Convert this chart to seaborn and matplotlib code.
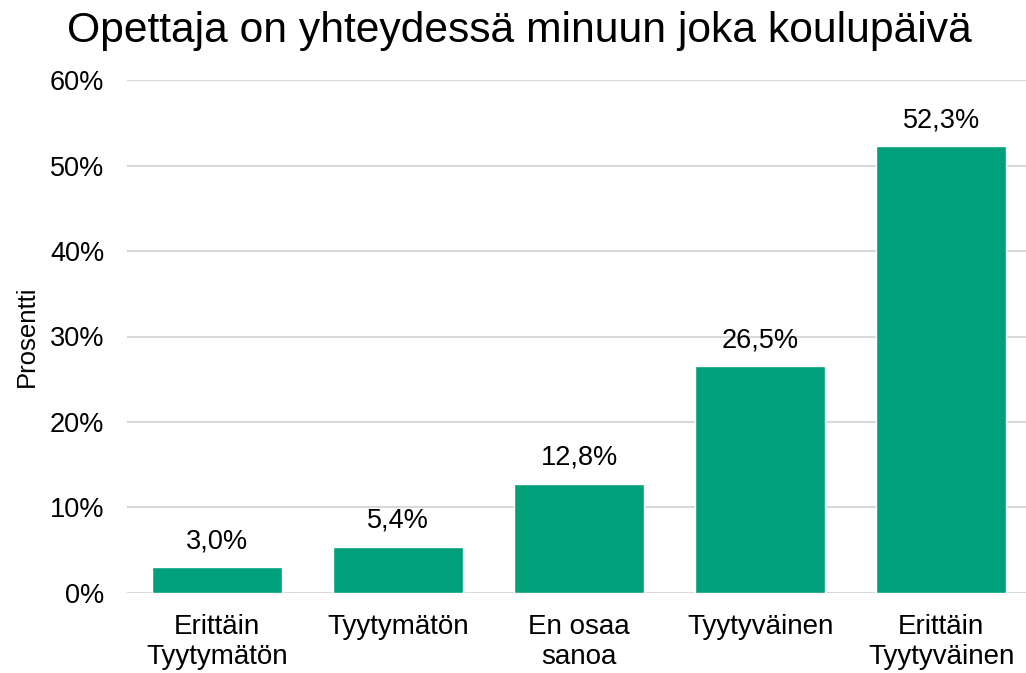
import matplotlib
matplotlib.use("Agg")
import matplotlib.pyplot as plt
import seaborn as sns
import pandas as pd
from matplotlib.ticker import PercentFormatter

categories = ["Erittäin\nTyytymätön", "Tyytymätön", "En osaa\nsanoa", "Tyytyväinen", "Erittäin\nTyytyväinen"]
values = [3.0, 5.4, 12.8, 26.5, 52.3]
title = "Opettaja on yhteydessä minuun joka koulupäivä"
ylabel = "Prosentti"

sns.set_theme(style="white")
plt.rcParams['font.family'] = ['Liberation Sans', 'DejaVu Sans']
plt.rcParams['text.color'] = 'black'
plt.rcParams['axes.labelcolor'] = 'black'

df = pd.DataFrame({"cat": categories, "val": values})
fig = plt.figure(figsize=(10.26, 6.73), dpi=100)
ax = fig.add_axes([0.1235, 0.119, 0.882, 0.762])
sns.barplot(data=df, x="cat", y="val", color="#00A07A", saturation=1, width=0.72, ax=ax, zorder=3)
ax.set_ylim(0, 60)
ax.set_yticks(range(0, 61, 10))
ax.yaxis.set_major_formatter(PercentFormatter(decimals=0))
ax.grid(axis="y", color="#d9d9d9", linewidth=1.5, zorder=0)
for s in ["top", "right", "left", "bottom"]:
    ax.spines[s].set_visible(False)
ax.tick_params(axis="y", length=0, labelsize=19.5, colors="black", pad=16)
ax.tick_params(axis="x", length=0, labelsize=20, colors="black", pad=15)
ax.set_xlabel("")
ax.set_ylabel(ylabel, fontsize=18.5, labelpad=8)
for i, v in enumerate(values):
    ax.text(i, v + 1.5, f"{v:.1f}%".replace(".", ","), ha="center", va="bottom", fontsize=19.5)
fig.text(0.5063, 1 - 42 / 673, title, fontsize=30.7, ha="center", va="baseline")
fig.savefig("out.png", dpi=100)
